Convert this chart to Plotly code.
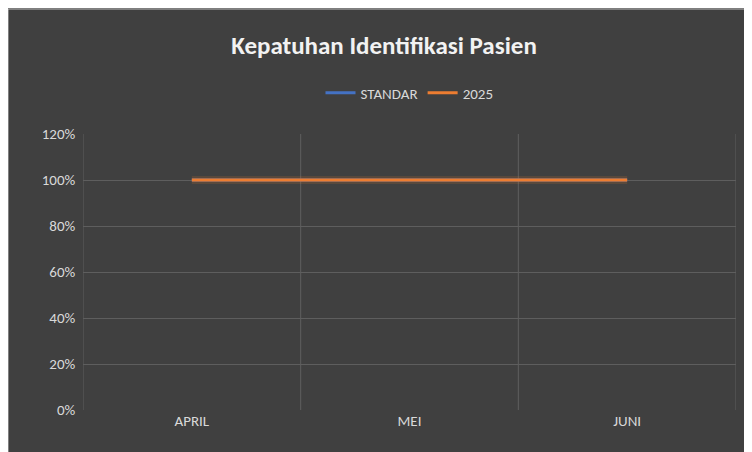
import plotly.graph_objects as go

months = ["APRIL", "MEI", "JUNI"]
standar = [1.0, 1.0, 1.0]
tahun_2025 = [1.0, 1.0, 1.0]

x = list(range(len(months)))
bounds = [-0.5, 0.5, 1.5, 2.5]

fig = go.Figure()
fig.add_trace(go.Scatter(x=x, y=standar, name="STANDAR", mode="lines",
                         line=dict(color="#4472C4", width=3)))
# soft glow behind the orange line
fig.add_trace(go.Scatter(x=x, y=tahun_2025, mode="lines", showlegend=False, hoverinfo="skip",
                         line=dict(color="rgba(237,125,49,0.15)", width=8)))
fig.add_trace(go.Scatter(x=x, y=tahun_2025, name="2025", mode="lines",
                         line=dict(color="#ED7D31", width=3)))

# vertical gridlines at category boundaries
grid = [dict(type="line", xref="x", yref="paper", x0=b, x1=b, y0=0, y1=1, layer="below",
             line=dict(color="#5E5E5E", width=1)) for b in bounds]
border = dict(type="rect", xref="paper", yref="paper", x0=-75 / 653, x1=1 + 23 / 653,
              y0=-49 / 276, y1=1 + 125 / 276, line=dict(color="#BFBFBF", width=1))

fig.update_layout(
    width=752, height=452,
    paper_bgcolor="#404040", plot_bgcolor="#404040",
    font=dict(family="Calibri, Carlito, Lato, sans-serif", color="#D9D9D9", size=15),
    title=dict(text="<b>Kepatuhan Identifikasi Pasien</b>", x=0.5, y=0.918, xanchor="center",
               yanchor="middle", font=dict(size=25, color="#F2F2F2")),
    legend=dict(orientation="h", x=0.5, xanchor="center", y=1 + 41 / 276, yanchor="middle",
                font=dict(size=15, color="#D9D9D9")),
    margin=dict(l=75, r=24, t=126, b=50, autoexpand=False),
    shapes=grid + [border],
)
fig.update_xaxes(range=[-0.5, 2.5], tickvals=x, ticktext=months, showgrid=False, zeroline=False,
                 showline=False, ticks="")
fig.update_yaxes(range=[0, 1.2], dtick=0.2, tickformat=".0%", gridcolor="#5E5E5E",
                 zeroline=False, showline=False, ticksuffix="  ")

fig.write_html("out.html")
